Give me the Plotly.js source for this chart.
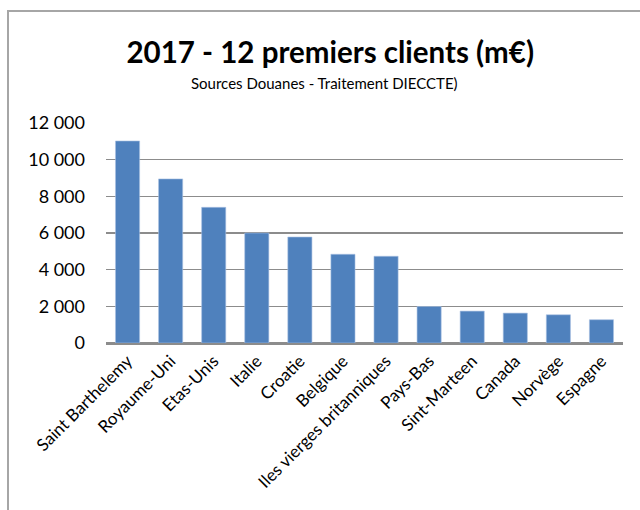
<!DOCTYPE html>
<html>
<head>
<meta charset="utf-8">
<script src="https://cdn.plot.ly/plotly-3.0.1.min.js"></script>
<style>
  html, body { margin: 0; padding: 0; background: #fff; }
  #wrap { position: relative; width: 640px; height: 510px; }
  #chart { position: absolute; left: 0; top: 0; width: 640px; height: 510px; }
  #frame { position: absolute; left: 7px; top: 10px; width: 640px; height: 520px;
           border-left: 2px solid #a6a6a6; border-top: 2px solid #a6a6a6; pointer-events: none; }
</style>
</head>
<body>
<div id="wrap">
  <div id="chart"></div>
  <div id="frame"></div>
</div>
<script>
const categories = ["Saint Barthelemy", "Royaume-Uni", "Etas-Unis", "Italie", "Croatie", "Belgique",
  "Iles vierges britanniques", "Pays-Bas", "Sint-Marteen", "Canada", "Norvège", "Espagne"];
const values = [11020, 8950, 7400, 6000, 5780, 4840, 4730, 1990, 1740, 1630, 1540, 1270];
const yTicks = [0, 2000, 4000, 6000, 8000, 10000, 12000];

const font = "Lato, 'Open Sans', sans-serif";

Plotly.newPlot("chart", [{
  type: "bar",
  x: categories,
  y: values,
  marker: { color: "#4F81BD", line: { color: "#a9c1e2", width: 0.6 } },
  hoverinfo: "x+y"
}], {
  width: 640, height: 510,
  margin: { l: 106, r: 17, t: 123, b: 167 },
  paper_bgcolor: "#fff",
  plot_bgcolor: "#fff",
  separators: ", ",
  bargap: 0.44,
  showlegend: false,
  font: { family: font, color: "#000" },
  title: {
    text: "<b>2017 - 12 premiers clients (m€)</b>",
    font: { family: font, size: 29.5, color: "#000" },
    x: 0.516, xanchor: "center", y: 0.896, yanchor: "middle", xref: "container", yref: "container"
  },
  annotations: [{
    text: "Sources Douanes - Traitement DIECCTE)",
    xref: "paper", yref: "paper", x: 0.422, y: 1.184, xanchor: "center", yanchor: "middle",
    showarrow: false, font: { family: font, size: 15, color: "#000" }
  }],
  xaxis: {
    type: "category",
    tickangle: -45,
    tickfont: { family: font, size: 17, color: "#000" },
    showgrid: false,
    showline: true, linecolor: "#8c8c8c", linewidth: 1.5,
    ticks: "", fixedrange: true
  },
  yaxis: {
    range: [0, 12000],
    tickvals: yTicks,
    tickformat: ",d",
    tickfont: { family: font, size: 18, color: "#000" },
    showgrid: true, gridcolor: "#8c8c8c", gridwidth: 1.5,
    zeroline: true, zerolinecolor: "#8c8c8c", zerolinewidth: 1.5,
    showline: false, ticks: "", ticklabelstandoff: 20, fixedrange: true
  }
}, { displayModeBar: false, staticPlot: true });
</script>
</body>
</html>
